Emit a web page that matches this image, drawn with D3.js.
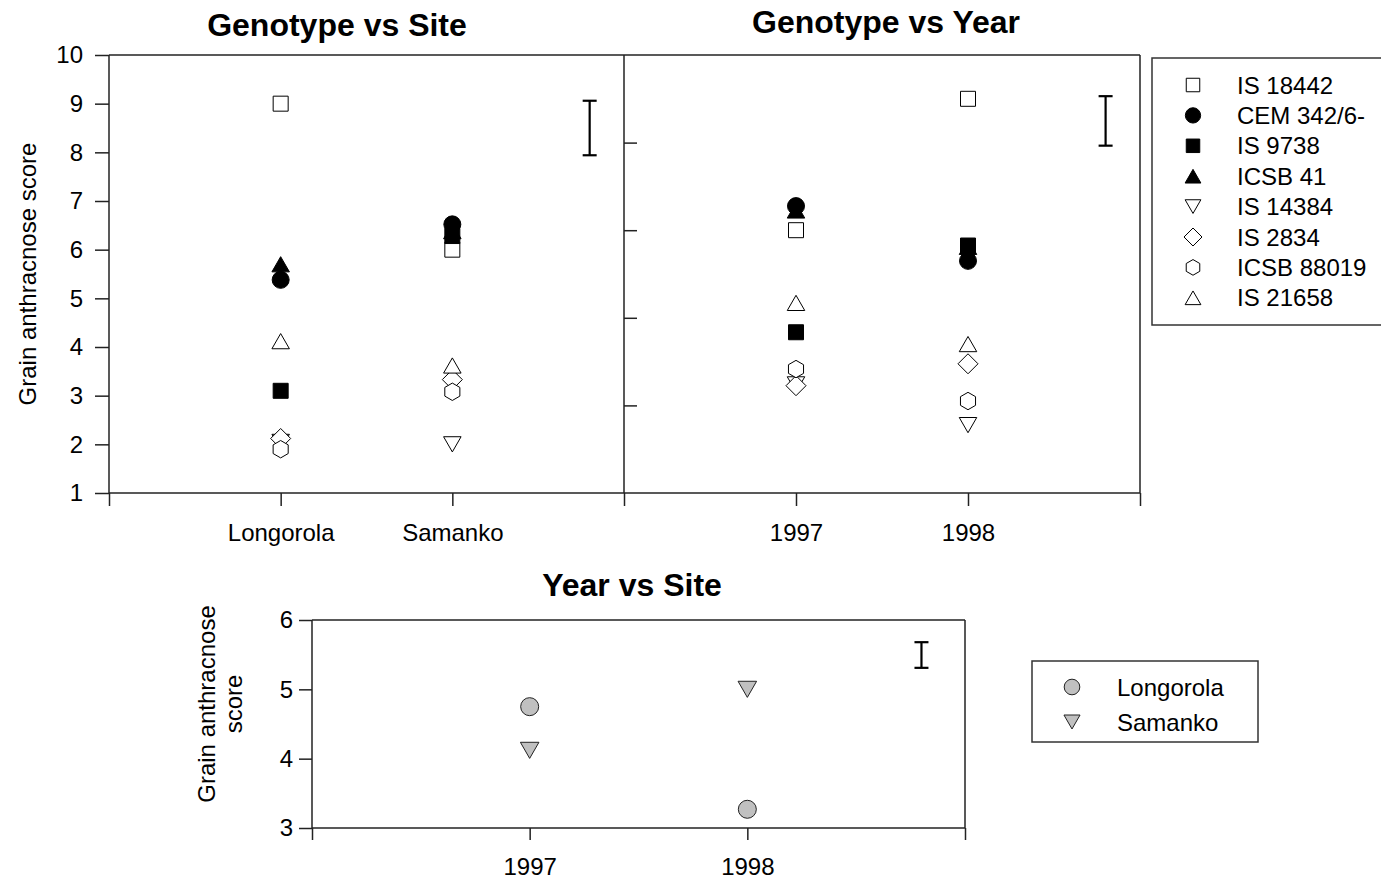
<!DOCTYPE html>
<html>
<head>
<meta charset="utf-8">
<script src="https://cdn.jsdelivr.net/npm/d3@7"></script>
<style>
body { margin: 0; background: #fff; }
text { font-family: "Liberation Sans", Arial, sans-serif; fill: #000; }
</style>
</head>
<body>
<div class="chart"></div>
<script>
// genotypes, in legend order
var genotypes = ["IS 18442", "CEM 342/6-", "IS 9738", "ICSB 41", "IS 14384", "IS 2834", "ICSB 88019", "IS 21658"];
var sites = ["Longorola", "Samanko"];
var years = ["1997", "1998"];

// Genotype vs Site
var scoreLongorola = [9.0, 5.38, 3.1, 5.7, 2.05, 2.12, 1.9, 4.12];
var scoreSamanko = [6.0, 6.52, 6.28, 6.38, 2.0, 3.33, 3.08, 3.62];
// Genotype vs Year
var score1997 = [6.0, 6.55, 3.67, 6.45, 2.48, 2.45, 2.83, 4.34];
var score1998 = [9.0, 5.3, 5.65, 5.62, 1.55, 2.95, 2.1, 3.4];
// Year vs Site
var siteNames = ["Longorola", "Samanko"];
var yearLongorola = [4.75, 3.27];
var yearSamanko = [4.12, 5.0];

// LSD bars [low, high]
var lsdSite = [7.94, 9.06];
var lsdYear = [7.93, 9.06];
var lsdYearSite = [5.31, 5.68];

var siteTicks = [1, 2, 3, 4, 5, 6, 7, 8, 9, 10];
var yearTicks = [2, 4, 6, 8];
var botTicks = [3, 4, 5, 6];

// marker styles per genotype
var shapes = ["square", "circle", "square", "triUp", "triDown", "diamond", "hexagon", "triUp"];
var filled = [false, true, true, true, false, false, false, false];

var svgWidth = 1381;
var svgHeight = 881;

var svg = d3.select(".chart")
  .append("svg")
    .attr("width", svgWidth)
    .attr("height", svgHeight);

var xSite = d3.scaleLinear().domain([0, 3]).range([109, 624]);
var xYear = d3.scaleLinear().domain([0, 3]).range([624, 1140]);
var ySite = d3.scaleLinear().domain([1, 10]).range([493, 55]);
var yYear = d3.scaleLinear().domain([0, 10]).range([493, 55]);
var xBot = d3.scaleLinear().domain([0, 3]).range([312, 965]);
var yBot = d3.scaleLinear().domain([3, 6]).range([828, 620]);

function shapePath(type, k) {
  k = k || 1;
  if (type == "square") {
    var s = 15 * k;
    return "M" + (-s / 2) + "," + (-s / 2) + "h" + s + "v" + s + "h" + (-s) + "Z";
  }
  if (type == "circle") {
    var r = 8.5 * k;
    return "M" + r + ",0A" + r + "," + r + " 0 1,1 " + (-r) + ",0A" + r + "," + r + " 0 1,1 " + r + ",0Z";
  }
  if (type == "triUp" || type == "triDown") {
    var a = 17.5 * k, h = 15.2 * k;
    var sg = type == "triUp" ? 1 : -1;
    return "M0," + (-sg * h / 2) + "L" + (a / 2) + "," + (sg * h / 2) + "L" + (-a / 2) + "," + (sg * h / 2) + "Z";
  }
  if (type == "diamond") {
    var d = 10 * k;
    return "M0," + (-d) + "L" + d + ",0L0," + d + "L" + (-d) + ",0Z";
  }
  if (type == "hexagon") {
    var rr = 8.7 * k;
    var pts = d3.range(6).map(function(i) {
      var ang = (-90 + 60 * i) * Math.PI / 180;
      return [rr * Math.cos(ang), rr * Math.sin(ang)];
    });
    return "M" + pts.join("L") + "Z";
  }
}

function styleAxis(g, size) {
  g.attr("font-size", size).attr("font-family", "Liberation Sans, Arial, sans-serif");
  g.select(".domain").remove();
  g.selectAll("line").attr("stroke", "#222").attr("stroke-width", 1.5);
  g.selectAll("text").attr("fill", "#000");
}

function frameLine(x1, y1, x2, y2) {
  svg.append("line")
    .attr("x1", x1).attr("y1", y1).attr("x2", x2).attr("y2", y2)
    .attr("stroke", "#222").attr("stroke-width", 1.5);
}

function errBar(x, lo, hi) {
  var g = svg.append("g").attr("stroke", "#000").attr("stroke-width", 2.2);
  g.append("line").attr("x1", x).attr("x2", x).attr("y1", lo).attr("y2", hi);
  g.append("line").attr("x1", x - 7).attr("x2", x + 7).attr("y1", lo).attr("y2", lo);
  g.append("line").attr("x1", x - 7).attr("x2", x + 7).attr("y1", hi).attr("y2", hi);
}

// ---------- top panels ----------
frameLine(xSite(0), ySite(10), xYear(3), ySite(10));
frameLine(xSite(0), ySite(10), xSite(0), ySite(1));
frameLine(xSite(3), ySite(10), xSite(3), ySite(1));
frameLine(xYear(3), ySite(10), xYear(3), ySite(1));
frameLine(xSite(0), ySite(1), xYear(3), ySite(1));

var leftAxis = svg.append("g")
  .attr("transform", "translate(" + xSite(0) + ",0)")
  .call(d3.axisLeft(ySite).tickValues(siteTicks).tickSize(14).tickPadding(12));
styleAxis(leftAxis, 24);

var yearAxis = svg.append("g")
  .attr("transform", "translate(" + xYear(0) + ",0)")
  .call(d3.axisRight(yYear).tickValues(yearTicks).tickSize(13).tickFormat(""));
styleAxis(yearAxis, 24);

var siteAxis = svg.append("g")
  .attr("transform", "translate(0," + ySite(1) + ")")
  .call(d3.axisBottom(xSite).tickValues([0, 1, 2, 3]).tickSize(13).tickPadding(18)
    .tickFormat(function(d) { return sites[d - 1] || ""; }));
styleAxis(siteAxis, 24);

var yearXAxis = svg.append("g")
  .attr("transform", "translate(0," + ySite(1) + ")")
  .call(d3.axisBottom(xYear).tickValues([1, 2, 3]).tickSize(13).tickPadding(18)
    .tickFormat(function(d) { return years[d - 1] || ""; }));
styleAxis(yearXAxis, 24);

svg.append("text")
  .attr("transform", "translate(27," + ((ySite(1) + ySite(10)) / 2) + ") rotate(-90)")
  .attr("text-anchor", "middle")
  .attr("dominant-baseline", "central")
  .attr("font-size", 24)
  .text("Grain anthracnose score");

svg.append("text").attr("x", 337).attr("y", 36).attr("text-anchor", "middle")
  .attr("font-size", 32).attr("font-weight", "bold").text("Genotype vs Site");
svg.append("text").attr("x", 886).attr("y", 33).attr("text-anchor", "middle")
  .attr("font-size", 32).attr("font-weight", "bold").text("Genotype vs Year");

// genotype points, series order so later series sit on top
genotypes.forEach(function(name, i) {
  var pts = [
    [xSite(1), ySite(scoreLongorola[i])],
    [xSite(2), ySite(scoreSamanko[i])],
    [xYear(1), yYear(score1997[i])],
    [xYear(2), yYear(score1998[i])]
  ];
  svg.append("g").selectAll("path")
    .data(pts)
    .enter().append("path")
      .attr("transform", function(p) { return "translate(" + p[0] + "," + p[1] + ")"; })
      .attr("d", shapePath(shapes[i]))
      .attr("fill", filled[i] ? "#000" : "#fff")
      .attr("stroke", "#000")
      .attr("stroke-width", 1);
});

errBar(xSite(2.8), ySite(lsdSite[0]), ySite(lsdSite[1]));
errBar(xYear(2.8), yYear(lsdYear[0]), yYear(lsdYear[1]));

// legend
var legend = svg.append("g");
legend.append("rect")
  .attr("x", 1152).attr("y", 58).attr("width", 300).attr("height", 267)
  .attr("fill", "none").attr("stroke", "#333").attr("stroke-width", 1.5);
genotypes.forEach(function(name, i) {
  var ly = 85 + i * 30.4;
  legend.append("path")
    .attr("transform", "translate(1193," + ly + ")")
    .attr("d", shapePath(shapes[i], 0.9))
    .attr("fill", filled[i] ? "#000" : "#fff")
    .attr("stroke", "#000").attr("stroke-width", 1);
  legend.append("text")
    .attr("x", 1237).attr("y", ly + 8.5)
    .attr("font-size", 24)
    .text(name);
});

// ---------- bottom panel ----------
frameLine(xBot(0), yBot(6), xBot(3), yBot(6));
frameLine(xBot(0), yBot(6), xBot(0), yBot(3));
frameLine(xBot(3), yBot(6), xBot(3), yBot(3));
frameLine(xBot(0), yBot(3), xBot(3), yBot(3));

var botLeft = svg.append("g")
  .attr("transform", "translate(" + xBot(0) + ",0)")
  .call(d3.axisLeft(yBot).tickValues(botTicks).tickSize(13).tickPadding(6).tickFormat(d3.format("d")));
styleAxis(botLeft, 24);

var botX = svg.append("g")
  .attr("transform", "translate(0," + yBot(3) + ")")
  .call(d3.axisBottom(xBot).tickValues([0, 1, 2, 3]).tickSize(12).tickPadding(18)
    .tickFormat(function(d) { return years[d - 1] || ""; }));
styleAxis(botX, 24);

var botLabel = svg.append("text")
  .attr("transform", "translate(206,704) rotate(-90)")
  .attr("text-anchor", "middle")
  .attr("dominant-baseline", "central")
  .attr("font-size", 24);
botLabel.append("tspan").attr("x", 0).attr("dy", 0).text("Grain anthracnose");
botLabel.append("tspan").attr("x", 0).attr("dy", 27).text("score");

svg.append("text").attr("x", 632).attr("y", 596).attr("text-anchor", "middle")
  .attr("font-size", 32).attr("font-weight", "bold").text("Year vs Site");

var botSeries = [yearLongorola, yearSamanko];
var botShapes = ["circle", "triDown"];
botSeries.forEach(function(vals, i) {
  svg.append("g").selectAll("path")
    .data(vals)
    .enter().append("path")
      .attr("transform", function(v, j) { return "translate(" + xBot(j + 1) + "," + yBot(v) + ")"; })
      .attr("d", shapePath(botShapes[i], 1.06))
      .attr("fill", "#c0c0c0")
      .attr("stroke", "#222")
      .attr("stroke-width", 1);
});

errBar(xBot(2.8), yBot(lsdYearSite[0]), yBot(lsdYearSite[1]));

var botLegend = svg.append("g");
botLegend.append("rect")
  .attr("x", 1032).attr("y", 661).attr("width", 226).attr("height", 81)
  .attr("fill", "none").attr("stroke", "#333").attr("stroke-width", 1.5);
siteNames.forEach(function(name, i) {
  var ly = 687 + i * 35;
  botLegend.append("path")
    .attr("transform", "translate(1072," + ly + ")")
    .attr("d", shapePath(botShapes[i], 0.92))
    .attr("fill", "#c0c0c0")
    .attr("stroke", "#222").attr("stroke-width", 1);
  botLegend.append("text")
    .attr("x", 1117).attr("y", ly + 8.5)
    .attr("font-size", 24)
    .text(name);
});
</script>
</body>
</html>
